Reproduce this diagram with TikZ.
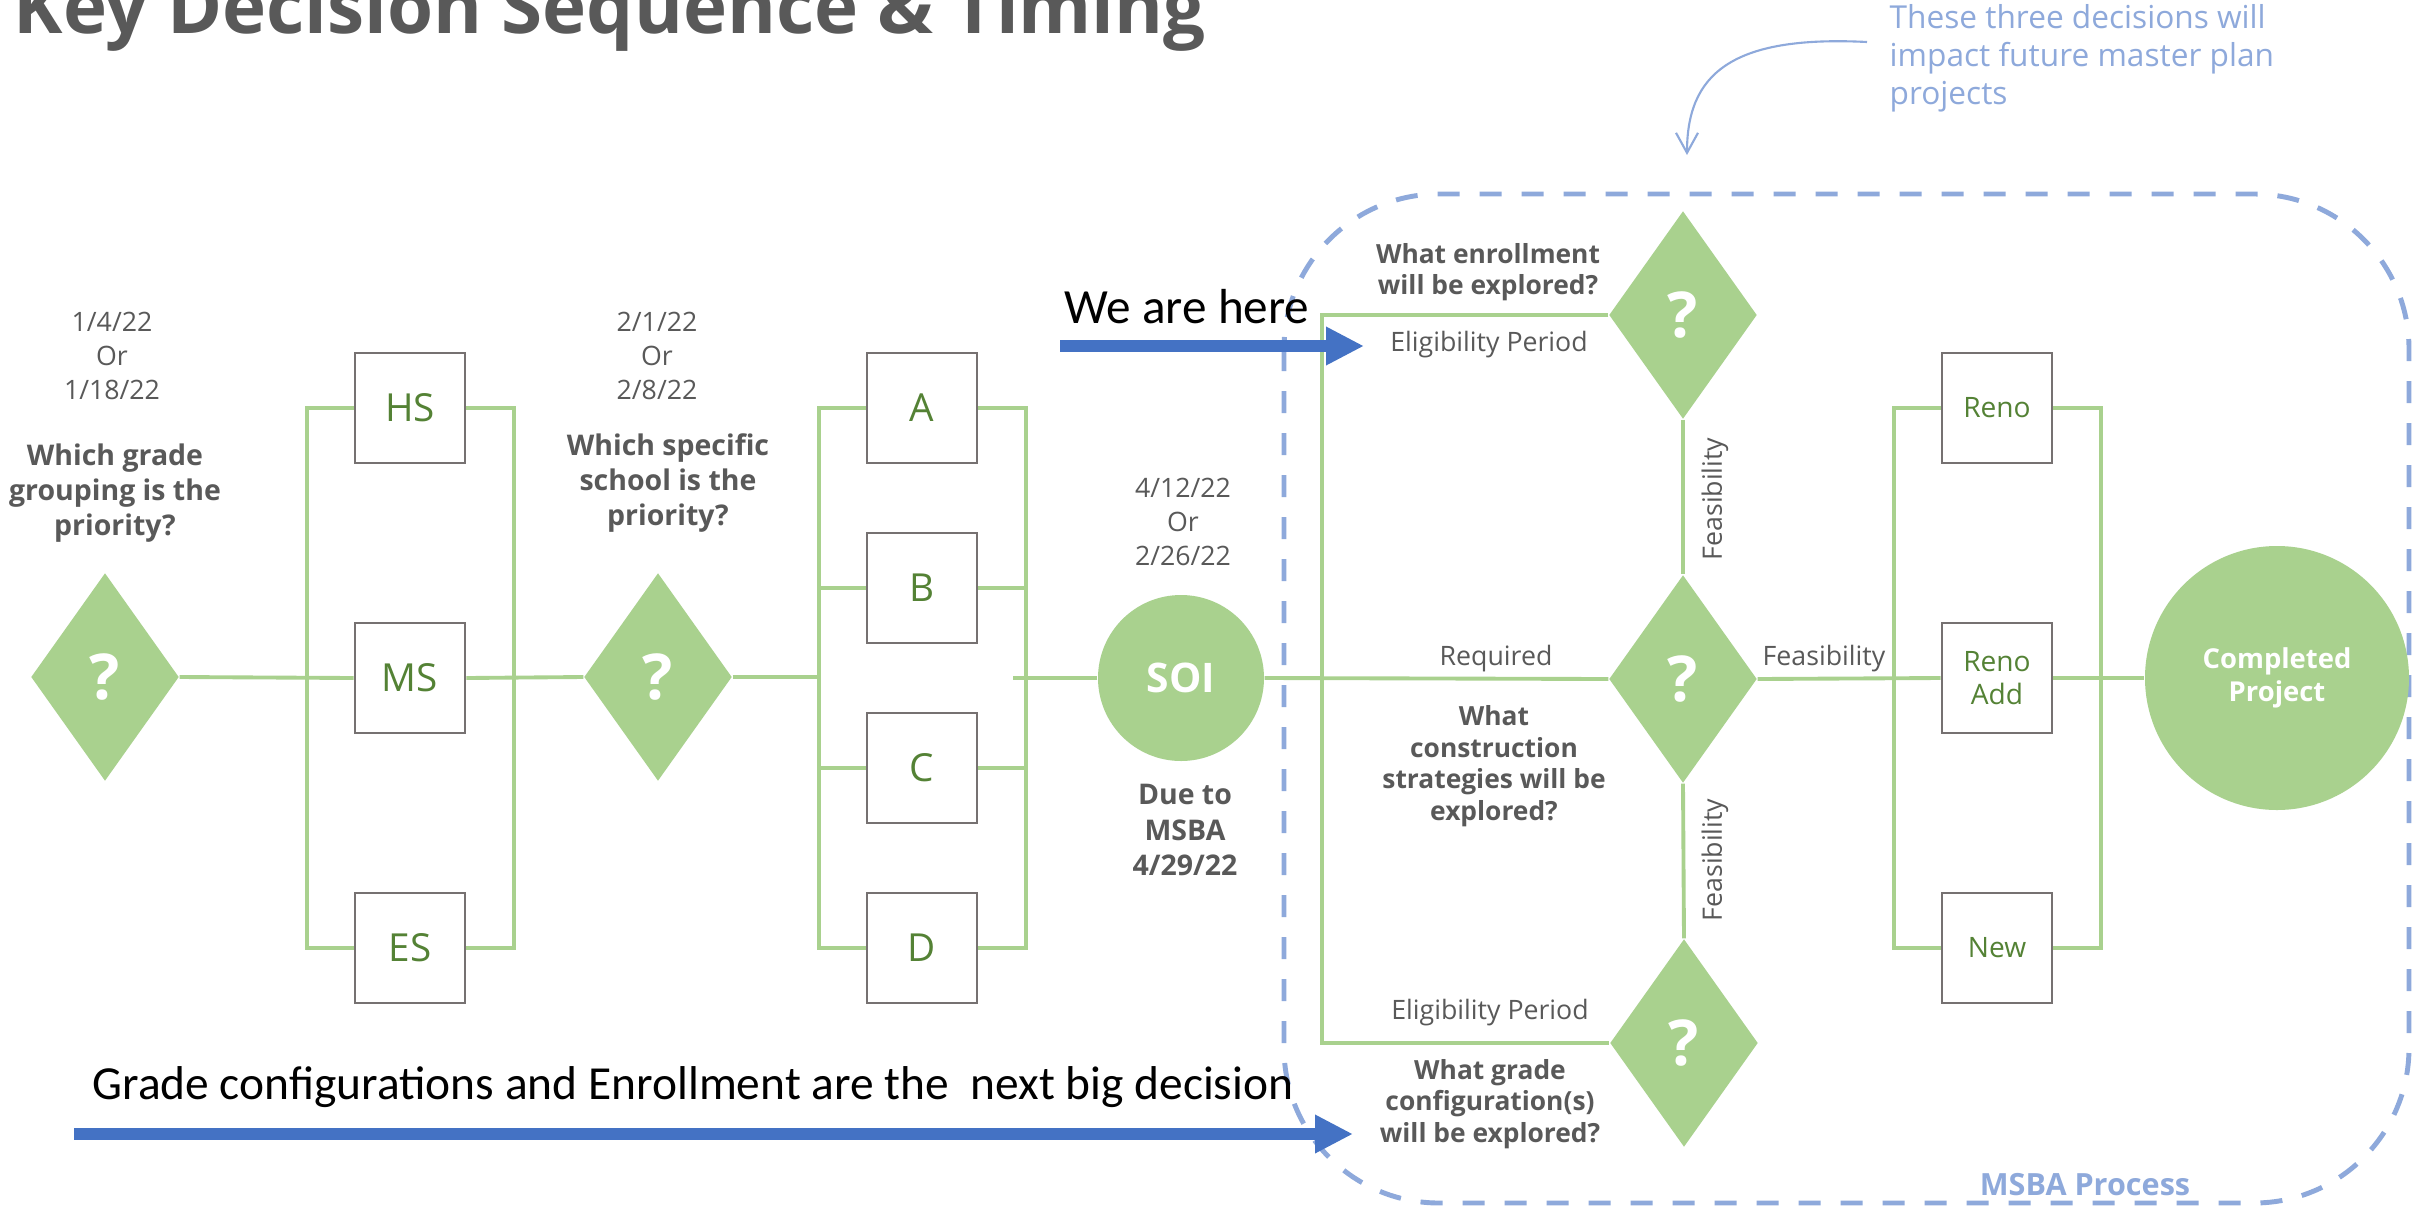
\documentclass[tikz,border=0pt]{standalone}
\usepackage{fontspec}
\setmainfont{Open Sans}
\newfontfamily\calfont{Carlito}
\usetikzlibrary{shapes.geometric,arrows.meta}
\definecolor{leafgreen}{HTML}{A9D18E}
\definecolor{darkgreen}{HTML}{548235}
\definecolor{slate}{HTML}{595959}
\definecolor{boxgrey}{HTML}{767171}
\definecolor{arrowblue}{HTML}{4472C4}
\definecolor{paleblue}{HTML}{8EA9DB}
\begin{document}
\begin{tikzpicture}[
  link/.style={draw=leafgreen, line width=1.1pt},
  choice/.style={diamond, fill=leafgreen, inner sep=0pt, minimum width=1.48cm, minimum height=2.08cm, text=white, font=\bfseries\fontsize{18}{18}\selectfont},
  option/.style={rectangle, draw=boxgrey, line width=0.8pt, fill=white, minimum size=1.1cm, inner sep=0pt, text=darkgreen, align=center, font=\fontsize{11}{13}\selectfont},
  smallopt/.style={option, font=\fontsize{8}{9.2}\selectfont},
  date/.style={text=slate, align=center, font=\fontsize{7.6}{9.7}\selectfont},
  ask/.style={text=slate, align=center, font=\bfseries\fontsize{8.1}{10}\selectfont},
  askr/.style={text=slate, align=center, font=\bfseries\fontsize{7.5}{9}\selectfont},
  tag/.style={text=slate, inner sep=0pt, font=\fontsize{7.6}{9}\selectfont},
  bigarrow/.style={draw=arrowblue, line width=3.2pt, -{Triangle[length=0.38cm, width=0.36cm]}},
  note/.style={inner sep=0pt, font=\calfont\fontsize{13.5}{16}\selectfont},
]
\clip (0,0) rectangle (24.12,-12.06);
\fill[white] (0,0) rectangle (24.12,-12.06);
\node[anchor=base west, inner sep=0pt, text=slate, font=\bfseries\fontsize{21.2}{24}\selectfont] (title) at (0.13,-0.33) {Key Decision Sequence \& Timing};
\draw[paleblue, line width=1.4pt, dash pattern=on 0.22cm off 0.2cm, rounded corners=1.55cm] (12.84,-1.94) rectangle (24.09,-12.03);
\node[inner sep=0pt, text=paleblue, font=\bfseries\fontsize{8.7}{10}\selectfont] (msba) at (20.85,-11.85) {MSBA Process};
\node[anchor=west, inner sep=0pt, align=left, text=paleblue, font=\fontsize{9}{10.8}\selectfont] (impact) at (18.89,-0.58) {These three decisions will\\impact future master plan\\projects};
\coordinate (bend0) at (18.67,-0.42);
\coordinate (bend1) at (16.87,-1.55);
\draw[paleblue, line width=0.6pt, -{Straight Barb[length=0.2cm, width=0.22cm]}] (bend0) .. controls (17.3,-0.35) and (16.87,-0.75) .. (bend1);

\node[choice] (d1) at (1.05,-6.77) {?};
\node[option] (hs) at (4.10,-4.08) {HS};
\node[option] (ms) at (4.10,-6.78) {MS};
\node[option] (es) at (4.10,-9.48) {ES};
\node[choice] (d2) at (6.58,-6.77) {?};
\node[option] (sa) at (9.22,-4.08) {A};
\node[option] (sb) at (9.22,-5.88) {B};
\node[option] (sc) at (9.22,-7.68) {C};
\node[option] (sd) at (9.22,-9.48) {D};
\node[circle, fill=leafgreen, minimum size=1.66cm, inner sep=0pt, text=white, font=\bfseries\fontsize{11.6}{12}\selectfont] (soi) at (11.81,-6.78) {SOI};
\node[choice] (denroll) at (16.83,-3.15) {?};
\node[choice] (dcons) at (16.83,-6.79) {?};
\node[choice] (dgrade) at (16.84,-10.43) {?};
\node[smallopt] (reno) at (19.97,-4.08) {Reno};
\node[smallopt] (renoadd) at (19.97,-6.78) {Reno\\Add};
\node[smallopt] (new) at (19.97,-9.48) {New};
\node[circle, fill=leafgreen, minimum size=2.64cm, inner sep=0pt, align=center, text=white, font=\bfseries\fontsize{7.8}{9.2}\selectfont] (done) at (22.77,-6.78) {Completed\\Project};

\draw[link] (d1.east) -- (ms.west);
\draw[link] (hs.west) -- ++(-0.47,0) |- (es.west);
\draw[link] (hs.east) -- ++(0.48,0) |- (es.east);
\draw[link] (ms.east) -- (d2.west);
\draw[link] (d2.east) -- ++(0.88,0);
\draw[link] (sa.west) -- ++(-0.47,0) |- (sd.west);
\draw[link] (sb.west) -- ++(-0.47,0);
\draw[link] (sc.west) -- ++(-0.47,0);
\draw[link] (sa.east) -- ++(0.48,0) |- (sd.east);
\draw[link] (sb.east) -- ++(0.48,0);
\draw[link] (sc.east) -- ++(0.48,0);
\draw[link] (soi.west) -- ++(-0.84,0);
\draw[link] (soi.east) -- (dcons.west);
\draw[link] (denroll.west) -| (13.22,-6.78) |- (dgrade.west);
\draw[link] (denroll.south) -- (dcons.north);
\draw[link] (dcons.south) -- (dgrade.north);
\draw[link] (dcons.east) -- (renoadd.west);
\draw[link] (reno.west) -- ++(-0.47,0) |- (new.west);
\draw[link] (reno.east) -- ++(0.48,0) |- (new.east);
\draw[link] (renoadd.east) -- (done.west);

\node[date] (date1) at (1.12,-3.56) {1/4/22\\Or\\1/18/22};
\node[ask] (ask1) at (1.15,-4.93) {Which grade\\grouping is the\\priority?};
\node[date] (date2) at (6.57,-3.56) {2/1/22\\Or\\2/8/22};
\node[ask] (ask2) at (6.68,-4.83) {Which specific\\school is the\\priority?};
\node[date] (date3) at (11.83,-5.22) {4/12/22\\Or\\2/26/22};
\node[ask] (due) at (11.85,-8.30) {Due to\\MSBA\\4/29/22};
\node[askr] (askenroll) at (14.88,-2.72) {What enrollment\\will be explored?};
\node[tag] (elig1) at (14.89,-3.45) {Eligibility Period};
\node[tag] (req) at (14.96,-6.59) {Required};
\node[askr] (askcons) at (14.94,-7.66) {What\\construction\\strategies will be\\explored?};
\node[tag] (elig2) at (14.90,-10.13) {Eligibility Period};
\node[askr] (askgrade) at (14.90,-11.04) {What grade\\configuration(s)\\will be explored?};
\node[tag, rotate=90] (feas1) at (17.15,-4.99) {Feasibility};
\node[tag, rotate=90] (feas2) at (17.15,-8.60) {Feasibility};
\node[tag] (feas3) at (18.24,-6.59) {Feasibility};

\node[note, font=\calfont\fontsize{14}{16}\selectfont] (here) at (11.87,-3.07) {We are here};
\coordinate (here0) at (10.60,-3.46);
\coordinate (here1) at (13.64,-3.46);
\draw[bigarrow] (here0) -- (here1);
\node[note] (next) at (6.93,-10.87) {Grade configurations and Enrollment are the\ \ next big decision};
\coordinate (next0) at (0.74,-11.34);
\coordinate (next1) at (13.53,-11.34);
\draw[bigarrow] (next0) -- (next1);
\end{tikzpicture}
\end{document}
